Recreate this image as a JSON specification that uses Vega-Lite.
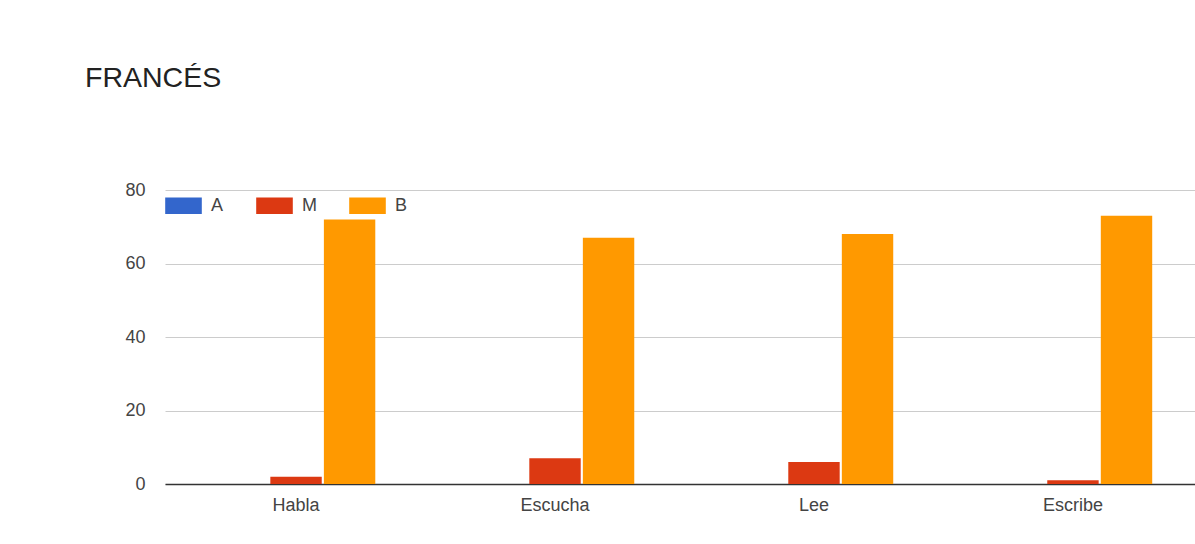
{
  "$schema": "https://vega.github.io/schema/vega-lite/v6.json",
  "autosize": {"type": "none"},
  "padding": {"left": 165, "top": 190, "right": 0, "bottom": 60},
  "width": 1039,
  "height": 294,
  "background": "white",
  "title": {
    "text": "FRANCÉS",
    "anchor": "start",
    "frame": "group",
    "dx": -80,
    "offset": 89,
    "font": "Liberation Sans",
    "fontSize": 28.5,
    "fontWeight": "normal",
    "color": "#222222"
  },
  "data": {
    "values": [
      {"habilidad": "Habla", "nivel": "A", "valor": 0},
      {"habilidad": "Habla", "nivel": "M", "valor": 2},
      {"habilidad": "Habla", "nivel": "B", "valor": 72},
      {"habilidad": "Escucha", "nivel": "A", "valor": 0},
      {"habilidad": "Escucha", "nivel": "M", "valor": 7},
      {"habilidad": "Escucha", "nivel": "B", "valor": 67},
      {"habilidad": "Lee", "nivel": "A", "valor": 0},
      {"habilidad": "Lee", "nivel": "M", "valor": 6},
      {"habilidad": "Lee", "nivel": "B", "valor": 68},
      {"habilidad": "Escribe", "nivel": "A", "valor": 0},
      {"habilidad": "Escribe", "nivel": "M", "valor": 1},
      {"habilidad": "Escribe", "nivel": "B", "valor": 73}
    ]
  },
  "mark": {"type": "bar"},
  "encoding": {
    "x": {
      "field": "habilidad",
      "type": "nominal",
      "sort": ["Habla", "Escucha", "Lee", "Escribe"],
      "scale": {"paddingInner": 0.388, "paddingOuter": 0.2},
      "axis": {
        "title": null,
        "labelAngle": 0,
        "ticks": false,
        "domain": true,
        "domainColor": "#333333",
        "domainWidth": 1.5,
        "labelFont": "Liberation Sans",
        "labelFontSize": 18,
        "labelColor": "#444444",
        "labelPadding": 12
      }
    },
    "xOffset": {
      "field": "nivel",
      "type": "nominal",
      "sort": ["A", "M", "B"],
      "scale": {"paddingInner": 0.04}
    },
    "y": {
      "field": "valor",
      "type": "quantitative",
      "scale": {"domain": [0, 80], "nice": false},
      "axis": {
        "title": null,
        "values": [0, 20, 40, 60, 80],
        "ticks": false,
        "domain": false,
        "gridColor": "#cccccc",
        "labelFont": "Liberation Sans",
        "labelFontSize": 18,
        "labelColor": "#444444",
        "labelPadding": 20
      }
    },
    "color": {
      "field": "nivel",
      "type": "nominal",
      "scale": {"domain": ["A", "M", "B"], "range": ["#3366cc", "#dc3912", "#ff9900"]},
      "legend": {
        "title": null,
        "orient": "none",
        "legendX": 0,
        "legendY": -3,
        "direction": "horizontal",
        "symbolType": "M-1,-0.45L1,-0.45L1,0.45L-1,0.45Z",
        "symbolSize": 1340,
        "symbolStrokeWidth": 0,
        "labelFont": "Liberation Sans",
        "labelFontSize": 18,
        "labelColor": "#444444",
        "labelOffset": 9,
        "columnPadding": 32
      }
    }
  },
  "config": {"view": {"stroke": null}}
}
